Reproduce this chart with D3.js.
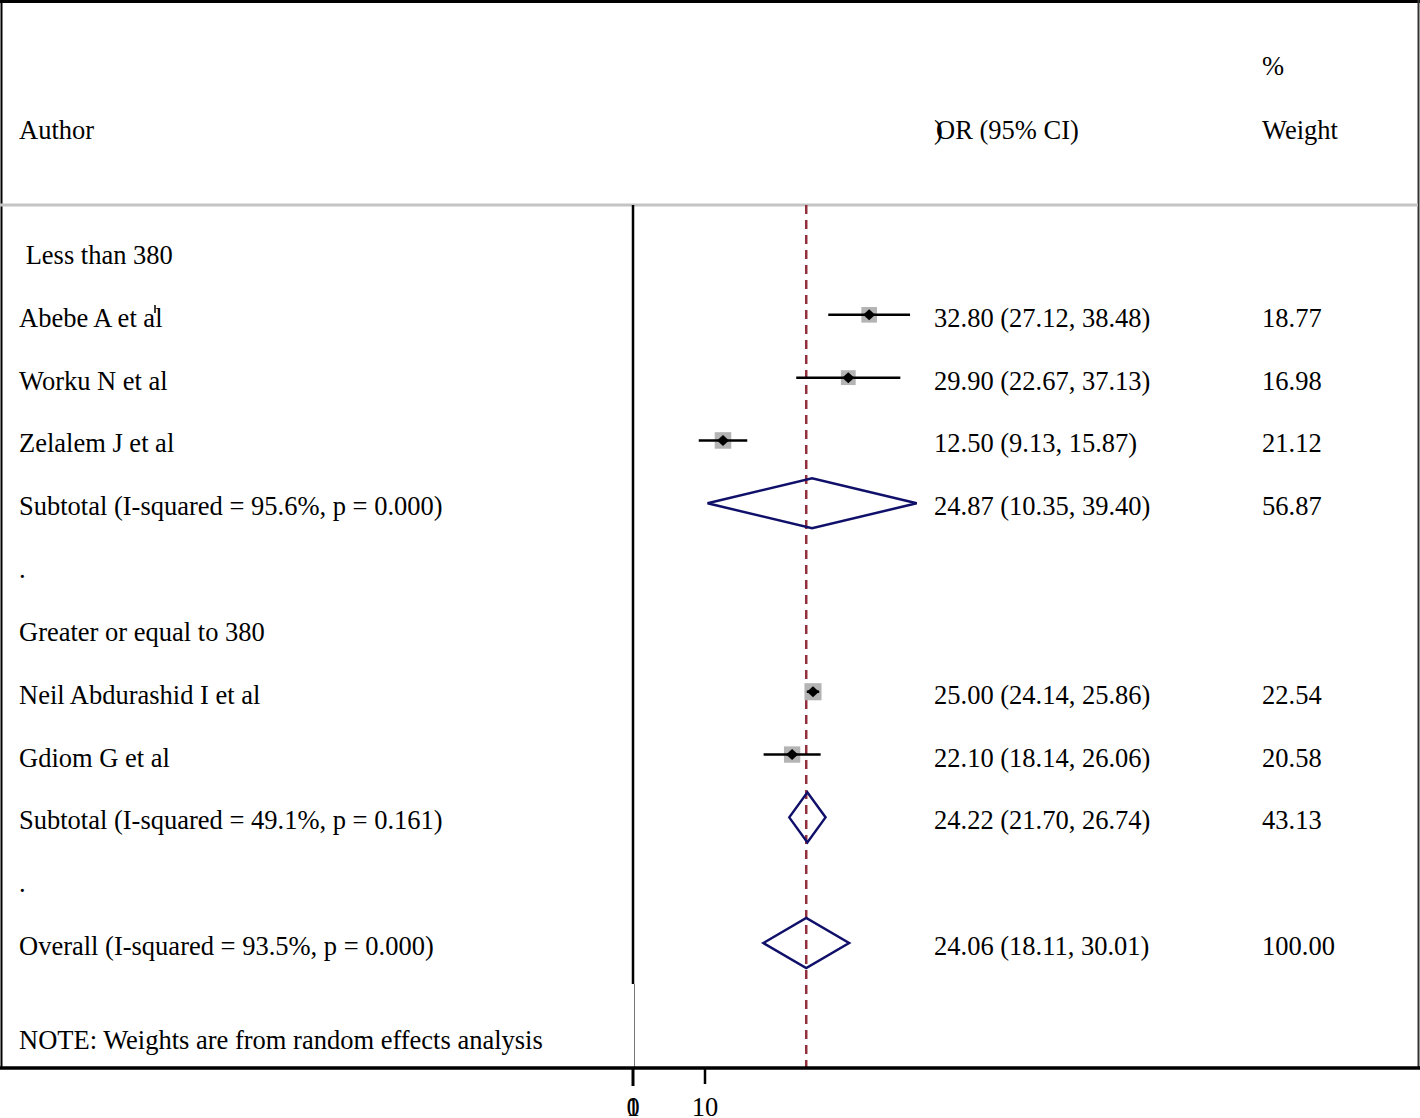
<!DOCTYPE html>
<html><head><meta charset="utf-8">
<script src="https://cdn.jsdelivr.net/npm/d3@7/dist/d3.min.js"></script>
<style>body{margin:0;background:#fff}svg text{font-family:"Liberation Serif","Times New Roman",serif;font-size:26.5px;fill:#000}</style>
</head><body><svg id="c" width="1420" height="1118"></svg>
<script>
// rows: label, type, est, lo, hi, weight
const labels = [" Less than 380","Abebe A et al","Worku N et al","Zelalem J et al","Subtotal (I-squared = 95.6%, p = 0.000)",".","Greater or equal to 380","Neil Abdurashid I et al","Gdiom G et al","Subtotal (I-squared = 49.1%, p = 0.161)",".","Overall (I-squared = 93.5%, p = 0.000)"];
const rowTypes = ["head","study","study","study","sub","blank","head","study","study","sub","blank","sub"];
const estimates = [null,32.80,29.90,12.50,24.87,null,null,25.00,22.10,24.22,null,24.06];
const lower = [null,27.12,22.67,9.13,10.35,null,null,24.14,18.14,21.70,null,18.11];
const upper = [null,38.48,37.13,15.87,39.40,null,null,25.86,26.06,26.74,null,30.01];
const weights = [null,18.77,16.98,21.12,56.87,null,null,22.54,20.58,43.13,null,100.00];
const overallEstimate = 24.06;
const xTicks = [0,10];
const note = "NOTE: Weights are from random effects analysis";

const svg = d3.select("#c");
const x = d3.scaleLinear().domain([0,10]).range([633,705]);
const y = d3.scaleLinear().domain([0,11]).range([252,943]);
const fmt = d3.format(".2f");

// frame
svg.append("line").attr("x1",0).attr("x2",1420).attr("y1",1.5).attr("y2",1.5).attr("stroke","#000").attr("stroke-width",3);
svg.append("line").attr("x1",1.5).attr("x2",1.5).attr("y1",0).attr("y2",1069).attr("stroke","#000").attr("stroke-width",2);
svg.append("line").attr("x1",1418.5).attr("x2",1418.5).attr("y1",0).attr("y2",1069).attr("stroke","#333").attr("stroke-width",2);
svg.append("line").attr("x1",0).attr("x2",1418).attr("y1",205).attr("y2",205).attr("stroke","#c4c4c4").attr("stroke-width",3);

// headers
svg.append("text").attr("x",19).attr("y",139).text("Author");
svg.append("text").attr("x",934).attr("y",139).text(")");
svg.append("text").attr("x",936).attr("y",139).text("OR (95% CI)");
svg.append("text").attr("x",1262).attr("y",75).text("%");
svg.append("text").attr("x",1262).attr("y",139).text("Weight");

// null line (x=0)
svg.append("line").attr("x1",x(0)).attr("x2",x(0)).attr("y1",205).attr("y2",984).attr("stroke","#000").attr("stroke-width",2.5);
svg.append("line").attr("x1",x(0)+1.5).attr("x2",x(0)+1.5).attr("y1",984).attr("y2",1068).attr("stroke","#777").attr("stroke-width",1);

// overall dashed line
svg.append("line").attr("x1",x(overallEstimate)).attr("x2",x(overallEstimate)).attr("y1",205).attr("y2",1068)
  .attr("stroke","#93303e").attr("stroke-width",2.5).attr("stroke-dasharray","9,6");

// axis
const axisG = svg.append("g").attr("transform","translate(0,1068)");
axisG.append("line").attr("x1",0).attr("x2",1420).attr("y1",0).attr("y2",0).attr("stroke","#000").attr("stroke-width",3.5);
axisG.selectAll("line.t").data(xTicks).enter().append("line").attr("class","t")
  .attr("x1",d=>x(d)).attr("x2",d=>x(d)).attr("y1",0).attr("y2",d=>d===0?18:16).attr("stroke","#000").attr("stroke-width",d=>d===0?3:2.5);
axisG.selectAll("text.t").data(xTicks).enter().append("text").attr("class","t")
  .attr("x",d=>x(d)).attr("y",48).attr("text-anchor","middle").text(d=>d);
axisG.append("text").attr("x",x(0)).attr("y",48).attr("text-anchor","middle").text("1");

// labels
const rows = labels.map((l,i)=>({l,i,t:rowTypes[i],e:estimates[i],lo:lower[i],hi:upper[i],w:weights[i]}));
svg.selectAll("text.lab").data(rows).enter().append("text").attr("class","lab")
  .attr("x",19).attr("y",d=>y(d.i)+12).attr("xml:space","preserve").style("white-space","pre").text(d=>d.l);
svg.selectAll("text.ci").data(rows.filter(d=>d.e!=null)).enter().append("text")
  .attr("x",934).attr("y",d=>y(d.i)+12).text(d=>`${fmt(d.e)} (${fmt(d.lo)}, ${fmt(d.hi)})`);
svg.selectAll("text.w").data(rows.filter(d=>d.w!=null)).enter().append("text")
  .attr("x",1262).attr("y",d=>y(d.i)+12).text(d=>fmt(d.w));
svg.append("text").attr("x",19).attr("y",y(12.5)+12).text(note);
// small artifact tick above 'al'
svg.append("line").attr("x1",155).attr("x2",155).attr("y1",305).attr("y2",313).attr("stroke","#000").attr("stroke-width",1.5);

// studies
const studies = rows.filter(d=>d.t==="study");
const boxSide = w=>3.6*Math.sqrt(w);
svg.selectAll("rect.box").data(studies).enter().append("rect")
  .attr("x",d=>x(d.e)-boxSide(d.w)/2).attr("y",d=>y(d.i)-boxSide(d.w)/2)
  .attr("width",d=>boxSide(d.w)).attr("height",d=>boxSide(d.w)).attr("fill","#b4b4b4");
svg.selectAll("line.ci").data(studies).enter().append("line")
  .attr("x1",d=>x(d.lo)).attr("x2",d=>x(d.hi)).attr("y1",d=>y(d.i)).attr("y2",d=>y(d.i)).attr("stroke","#000").attr("stroke-width",2.5);
svg.selectAll("path.pt").data(studies).enter().append("path")
  .attr("d",d=>{const cx=x(d.e),cy=y(d.i);return `M${cx-6},${cy}L${cx},${cy-5.5}L${cx+6},${cy}L${cx},${cy+5.5}Z`;}).attr("fill","#000");

// diamonds
const subs = rows.filter(d=>d.t==="sub");
svg.selectAll("path.dia").data(subs).enter().append("path")
  .attr("d",d=>{const cy=y(d.i);return `M${x(d.lo)},${cy}L${x(d.e)},${cy-25}L${x(d.hi)},${cy}L${x(d.e)},${cy+25}Z`;})
  .attr("fill","none").attr("stroke","#10106a").attr("stroke-width",2.5);
</script></body></html>
